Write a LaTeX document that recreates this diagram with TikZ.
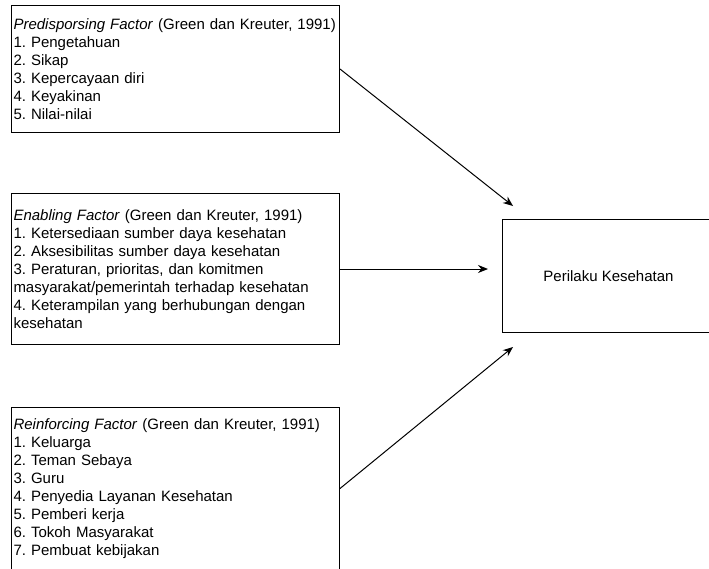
\documentclass[tikz,border=0pt]{standalone}
\usepackage{fontspec}
\setmainfont{Liberation Sans}
\usetikzlibrary{arrows.meta}
\tikzset{>={Stealth[length=10pt,width=8pt]}}
\frenchspacing

\begin{document}
\begin{tikzpicture}[x=1pt, y=-1pt, line width=1pt,
    box/.style={draw, anchor=north west, inner xsep=2pt, inner ysep=0pt,
        text width=324pt, align=left, font=\fontsize{15}{18}\selectfont}]
    \useasboundingbox(0, 0)rectangle(709, 568);
    \clip(0, 0)rectangle(709, 568);
    % faktor-faktor
    \node[box, minimum height=127pt](pre)at(11, 5){\textit{Predisporsing Factor} (Green dan Kreuter, 1991)\\
        1. Pengetahuan\\2. Sikap\\3. Kepercayaan diri\\4. Keyakinan\\5. Nilai-nilai};
    \node[box, minimum height=151pt](enb)at(11, 193){\textit{Enabling Factor} (Green dan Kreuter, 1991)\\
        1. Ketersediaan sumber daya kesehatan\\2. Aksesibilitas sumber daya kesehatan\\
        3. Peraturan, prioritas, dan komitmen\\masyarakat/pemerintah terhadap kesehatan\\
        4. Keterampilan yang berhubungan dengan\\kesehatan};
    \node[box, minimum height=162pt](rei)at(11, 407){\textit{Reinforcing Factor} (Green dan Kreuter, 1991)\\
        1. Keluarga\\2. Teman Sebaya\\3. Guru\\4. Penyedia Layanan Kesehatan\\5. Pemberi kerja\\
        6. Tokoh Masyarakat\\7. Pembuat kebijakan};
    % perilaku
    \node[draw, anchor=north west, minimum width=212pt, minimum height=113pt,
        font=\fontsize{15}{18}\selectfont](beh)at(502, 219){Perilaku Kesehatan};
    \coordinate(t1)at([shift={(11, -13)}]beh.north west);
    \coordinate(t2)at(enb.east -| beh.west);
    \coordinate(t3)at([shift={(11, 14)}]beh.south west);
    \draw[->](pre.east)--(t1);
    \draw[->](enb.east)--([xshift=-14pt]t2);
    \draw[->](rei.east)--(t3);
\end{tikzpicture}
\end{document}
